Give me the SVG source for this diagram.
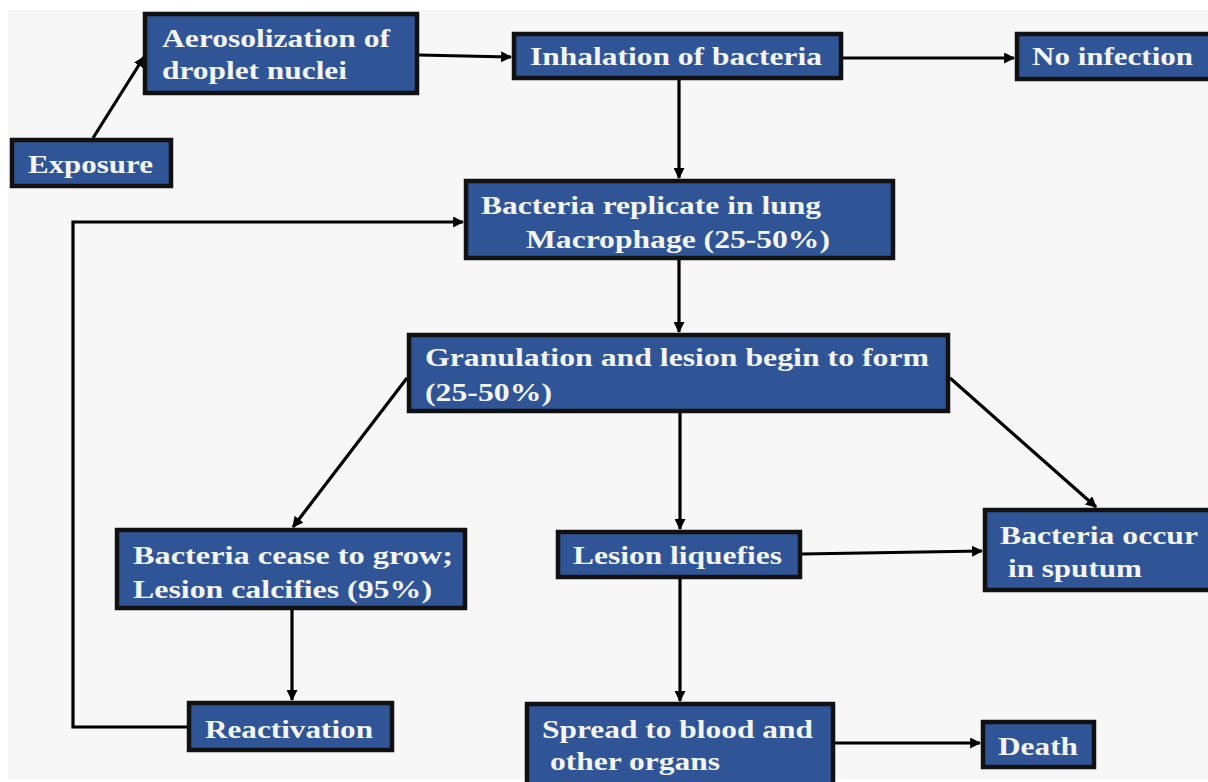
<svg xmlns="http://www.w3.org/2000/svg" width="1208" height="782" viewBox="0 0 1208 782">
<defs>
<marker id="ah" viewBox="0 0 10 10" refX="9" refY="5" markerWidth="11" markerHeight="11" markerUnits="userSpaceOnUse" orient="auto">
<path d="M0,0 L10,5 L0,10 z" fill="#000"/>
</marker>
<style>
.box{fill:#2f5597;stroke:#111;stroke-width:4.5}
.t{font-family:"Liberation Serif","Times New Roman",serif;font-weight:bold;font-size:25px;fill:#f4f4f4}
.c{fill:none;stroke:#000;stroke-width:3.2;marker-end:url(#ah)}
</style>
</defs>
<rect x="0" y="0" width="1208" height="782" fill="#fff"/>
<rect x="8" y="10" width="1200" height="769" fill="#f7f7f7"/>

<g id="connectors">
<path class="c" d="M93,138 L144,57"/>
<path class="c" d="M419,55 L511,57"/>
<path class="c" d="M843,58 L1014,58"/>
<path class="c" d="M679,80 L679,178"/>
<path class="c" d="M679,260 L679,332"/>
<path class="c" d="M407,378 L293,527"/>
<path class="c" d="M680,413 L680,529"/>
<path class="c" d="M950,378 L1096,507"/>
<path class="c" d="M802,554 L982,551"/>
<path class="c" d="M292,610 L292,700"/>
<path class="c" d="M680,579 L680,701"/>
<path class="c" d="M835,743 L980,743"/>
<path class="c" d="M187,727 L73,727 L73,222 L463,222"/>
</g>

<g id="exposure">
<rect class="box" x="12" y="140" width="159" height="46"/>
<text class="t" x="28" y="173" textLength="125" lengthAdjust="spacingAndGlyphs">Exposure</text>
</g>
<g id="aerosolization">
<rect class="box" x="145" y="14" width="272" height="79"/>
<text class="t" x="162" y="47" textLength="228" lengthAdjust="spacingAndGlyphs">Aerosolization of</text>
<text class="t" x="162" y="79" textLength="185" lengthAdjust="spacingAndGlyphs">droplet nuclei</text>
</g>
<g id="inhalation">
<rect class="box" x="514" y="34" width="327" height="44"/>
<text class="t" x="530" y="65" textLength="292" lengthAdjust="spacingAndGlyphs">Inhalation  of bacteria</text>
</g>
<g id="no-infection">
<rect class="box" x="1017" y="34" width="200" height="45"/>
<text class="t" x="1032" y="65" textLength="161" lengthAdjust="spacingAndGlyphs">No infection</text>
</g>
<g id="replicate">
<rect class="box" x="466" y="181" width="427" height="77"/>
<text class="t" x="481" y="214" textLength="340" lengthAdjust="spacingAndGlyphs">Bacteria replicate in lung</text>
<text class="t" x="526" y="248" textLength="304" lengthAdjust="spacingAndGlyphs">Macrophage (25-50%)</text>
</g>
<g id="granulation">
<rect class="box" x="409" y="335" width="539" height="76"/>
<text class="t" x="425" y="366" textLength="504" lengthAdjust="spacingAndGlyphs">Granulation  and lesion begin to form</text>
<text class="t" x="425" y="401" textLength="127" lengthAdjust="spacingAndGlyphs">(25-50%)</text>
</g>
<g id="cease">
<rect class="box" x="117" y="530" width="348" height="78"/>
<text class="t" x="133" y="564" textLength="320" lengthAdjust="spacingAndGlyphs">Bacteria cease to grow;</text>
<text class="t" x="133" y="598" textLength="299" lengthAdjust="spacingAndGlyphs">Lesion calcifies (95%)</text>
</g>
<g id="liquefies">
<rect class="box" x="558" y="532" width="242" height="45"/>
<text class="t" x="573" y="564" textLength="209" lengthAdjust="spacingAndGlyphs">Lesion liquefies</text>
</g>
<g id="sputum">
<rect class="box" x="985" y="510" width="230" height="80"/>
<text class="t" x="1000" y="544" textLength="198" lengthAdjust="spacingAndGlyphs">Bacteria occur</text>
<text class="t" x="1008" y="577" textLength="134" lengthAdjust="spacingAndGlyphs">in sputum</text>
</g>
<g id="reactivation">
<rect class="box" x="189" y="703" width="203" height="47"/>
<text class="t" x="205" y="738" textLength="168" lengthAdjust="spacingAndGlyphs">Reactivation</text>
</g>
<g id="spread">
<rect class="box" x="527" y="704" width="306" height="90"/>
<text class="t" x="542" y="738" textLength="271" lengthAdjust="spacingAndGlyphs">Spread to blood and</text>
<text class="t" x="550" y="770" textLength="170" lengthAdjust="spacingAndGlyphs">other organs</text>
</g>
<g id="death">
<rect class="box" x="983" y="722" width="111" height="45"/>
<text class="t" x="998" y="755" textLength="80" lengthAdjust="spacingAndGlyphs">Death</text>
</g>
</svg>
